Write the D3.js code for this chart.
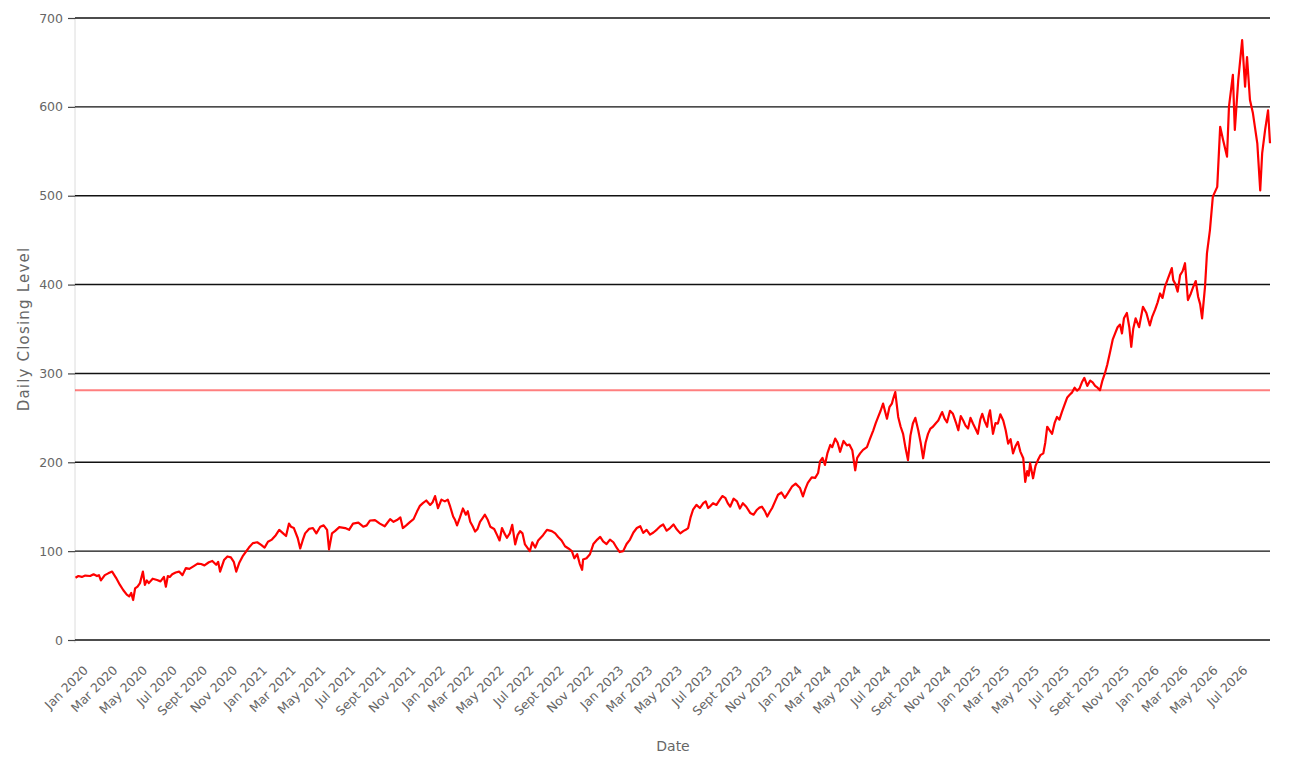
<!DOCTYPE html>
<html>
<head>
<meta charset="utf-8">
<script src="https://cdn.jsdelivr.net/npm/d3@7"></script>
<style>
  body { margin: 0; background: #fff; }
  svg { display: block; font-family: "DejaVu Sans", sans-serif; }
</style>
</head>
<body>
<script>
// closing levels (main readings)
const closeDates = [
  "2020-01-02","2020-01-15","2020-02-01","2020-02-15","2020-02-23","2020-03-02","2020-03-17","2020-03-25",
  "2020-04-02","2020-04-16","2020-04-25","2020-04-29","2020-05-03","2020-05-13","2020-05-19","2020-05-23",
  "2020-05-31","2020-06-17","2020-07-01","2020-07-05","2020-07-09","2020-07-18","2020-08-01","2020-08-15",
  "2020-09-01","2020-09-15","2020-10-01","2020-10-16","2020-10-24","2020-11-01","2020-11-15","2020-11-21",
  "2020-11-26","2020-12-02","2020-12-16","2020-12-30","2021-01-16","2021-01-30","2021-02-15","2021-03-02",
  "2021-03-14","2021-03-18","2021-04-01","2021-04-06","2021-04-16","2021-05-02","2021-05-17","2021-05-31",
  "2021-06-04","2021-06-16","2021-07-07","2021-07-23","2021-08-13","2021-08-27","2021-09-16","2021-10-07",
  "2021-10-21","2021-11-02","2021-11-17","2021-12-01","2021-12-13","2021-12-28","2022-01-07","2022-01-13",
  "2022-01-27","2022-02-07","2022-02-13","2022-02-21","2022-03-05","2022-03-11","2022-03-20","2022-03-30",
  "2022-04-09","2022-04-19","2022-04-30","2022-05-14","2022-05-24","2022-06-03","2022-06-14","2022-06-20",
  "2022-06-30","2022-07-10","2022-07-20","2022-07-31","2022-08-16","2022-09-03","2022-09-16","2022-09-30",
  "2022-10-14","2022-10-25","2022-11-04","2022-11-06","2022-11-20","2022-12-05","2022-12-17","2022-12-31",
  "2023-01-14","2023-01-27","2023-02-10","2023-02-24","2023-03-09","2023-03-23","2023-04-06","2023-04-19",
  "2023-05-03","2023-05-17","2023-05-30","2023-06-09","2023-06-19","2023-07-03","2023-07-10","2023-07-20",
  "2023-07-30","2023-08-13","2023-08-24","2023-09-03","2023-09-17","2023-09-29","2023-10-14","2023-10-28",
  "2023-11-07","2023-11-18","2023-11-28","2023-12-10","2023-12-24","2024-01-08","2024-01-24","2024-01-30",
  "2024-02-09","2024-02-24","2024-03-05","2024-03-15","2024-03-26","2024-03-30","2024-04-05","2024-04-15",
  "2024-04-29","2024-05-10","2024-05-16","2024-05-26","2024-06-09","2024-06-22","2024-07-02","2024-07-12",
  "2024-07-20","2024-07-30","2024-08-06","2024-08-12","2024-08-22","2024-09-01","2024-09-11","2024-09-22",
  "2024-10-02","2024-10-12","2024-10-22","2024-11-02","2024-11-10","2024-11-20","2024-12-02","2024-12-13",
  "2024-12-23","2025-01-02","2025-01-12","2025-01-22","2025-01-31","2025-02-10","2025-02-16","2025-02-22",
  "2025-03-04","2025-03-15","2025-03-25","2025-04-04","2025-04-14","2025-04-25","2025-04-29","2025-05-03",
  "2025-05-09","2025-05-15","2025-05-25","2025-06-05","2025-06-13","2025-06-23","2025-07-03","2025-07-13",
  "2025-07-24","2025-08-03","2025-08-13","2025-08-23","2025-09-03","2025-09-09","2025-09-19","2025-09-29",
  "2025-10-09","2025-10-20","2025-10-30","2025-11-09","2025-11-17","2025-11-23","2025-12-02","2025-12-06",
  "2025-12-26","2026-01-09","2026-01-20","2026-01-30","2026-02-09","2026-02-23","2026-03-02","2026-03-12",
  "2026-03-22","2026-03-28","2026-04-08","2026-04-18","2026-04-26","2026-05-02","2026-05-06","2026-05-12",
  "2026-05-18","2026-05-27","2026-06-02","2026-06-08","2026-06-16","2026-06-20","2026-06-28","2026-07-02",
  "2026-07-09","2026-07-17","2026-07-23","2026-07-27","2026-08-02","2026-08-08","2026-08-17","2026-08-23",
  "2026-08-27","2026-09-02","2026-09-08","2026-09-12"
];
const closeValues = [
  70,71,72,72,67,73,77,70,
  62,51,53,45,58,64,77,62,
  64,67.5,71,60,72,74,77,81,
  83.5,85.5,87.5,84.6,77,90,93,88,
  77,86.6,99.4,109,107,110.6,118,120,
  131,127.5,114.5,103,120,126,127.5,124,
  102,122.5,126,131,127.5,134.5,131,136,
  135,126,133,144.5,154,152,162,148.4,
  156,150,139,129,148,141,133,122,
  133,141,127.5,118,126,115,129.5,107.6,
  122.5,107.6,100,104,118,122.5,116,105.5,
  100,96.5,79,90.5,96.5,113,111,113,
  103.6,100,113,126,120.5,118.6,124.3,130,
  126,124.3,122.5,126,146.6,148.5,154,148.5,
  154,158,160,150,156,154,143,146.6,
  150,139,148.5,163.5,160,173,171,161.6,
  176.8,182.4,201,197,219.6,217,226.6,211.8,
  219,213.6,191,210,217,236,251,266,
  249,266,279,251,232,202.5,243.6,236,
  204.5,232,240,247,256.5,245,254.6,236,
  247,238,243.6,232,254.6,240,258.5,232,
  243.6,247,221,210,223,204.5,178,190,
  199,182,202.5,210,240,232,251,256.5,
  273,278.7,280.6,290,286,292,286,281,
  300,325,345,355,362,368,330,350,
  375,354,372,390,397.6,418.6,401,410.7,
  424,382.6,397.6,386,362,397.6,435.5,461,
  499,510,577.6,562.7,544,600,636,574,
  630,675,622.7,656,607.7,593,559,506,
  548,574,596,559
];

// extra in-between readings of the wiggles
const wiggleDates = [
  "2020-01-08","2020-01-22","2020-02-08","2020-02-19","2020-03-09","2020-04-09","2020-04-21","2020-05-08",
  "2020-05-27","2020-06-08","2020-06-24","2020-07-13","2020-07-25","2020-08-08","2020-08-22","2020-09-08",
  "2020-09-22","2020-10-08","2020-10-20","2020-11-08","2020-12-09","2020-12-22",
  "2021-01-08","2021-01-23","2021-02-07","2021-02-22","2021-03-08","2021-03-24","2021-04-11","2021-04-24",
  "2021-05-09","2021-05-24","2021-06-10","2021-06-25","2021-07-15","2021-08-03","2021-08-20","2021-09-06",
  "2021-09-26","2021-10-14","2021-10-28","2021-11-09","2021-11-24","2021-12-07","2021-12-20",
  "2022-01-02","2022-01-20","2022-02-02","2022-02-17","2022-02-27","2022-03-15","2022-03-25","2022-04-04",
  "2022-04-14","2022-04-25","2022-05-08","2022-05-19","2022-05-29","2022-06-09","2022-06-25","2022-07-05",
  "2022-07-25","2022-08-06","2022-08-24","2022-09-10","2022-09-23","2022-10-07","2022-10-19","2022-10-30",
  "2022-11-13","2022-11-27","2022-12-11","2022-12-24",
  "2023-01-07","2023-01-20","2023-02-03","2023-02-17","2023-03-03","2023-03-16","2023-03-30","2023-04-13",
  "2023-04-26","2023-05-10","2023-05-24","2023-06-04","2023-06-14","2023-06-26","2023-07-15","2023-07-25",
  "2023-08-06","2023-08-18","2023-08-29","2023-09-10","2023-09-23","2023-10-06","2023-10-21","2023-11-02",
  "2023-11-13","2023-11-23","2023-12-04","2023-12-17","2023-12-30",
  "2024-01-15","2024-02-04","2024-02-17","2024-03-01","2024-03-10","2024-03-20","2024-04-10","2024-04-22",
  "2024-05-04","2024-05-20","2024-06-01","2024-06-15","2024-06-27","2024-07-07","2024-07-25","2024-08-02",
  "2024-08-17","2024-08-27","2024-09-06","2024-09-16","2024-09-27","2024-10-07","2024-10-17","2024-10-28",
  "2024-11-06","2024-11-15","2024-11-26","2024-12-08","2024-12-18","2024-12-28",
  "2025-01-07","2025-01-17","2025-01-27","2025-02-05","2025-02-13","2025-02-27","2025-03-09","2025-03-20",
  "2025-03-30","2025-04-09","2025-04-19","2025-05-06","2025-05-20","2025-05-30","2025-06-09","2025-06-18",
  "2025-06-28","2025-07-08","2025-07-18","2025-07-29","2025-08-08","2025-08-18","2025-08-28","2025-09-14",
  "2025-09-24","2025-10-04","2025-10-14","2025-10-25","2025-11-04","2025-11-13","2025-11-28","2025-12-11",
  "2025-12-18",
  "2026-01-02","2026-01-14","2026-01-25","2026-02-04","2026-02-16","2026-02-26","2026-03-07","2026-03-17",
  "2026-04-03","2026-04-13","2026-04-22"
];
const wiggleValues = [
  72,72.5,74,73,75,56,49,60,
  67,69,66,71,76,73,80,86,
  84,89,88,94,94,104,
  110,104,113,124,117,126,112,125,
  120,129,120,127,124,132,129,135,
  128,133,138,129,136,151,157,
  155,158,158,135,138,145,128,125,
  137,135,125,112,120,120,118,120,
  110,112,124,120,112,103,92,86,
  92,108,116,108,
  110,99,108,121,128,124,121,128,
  123,130,120,124,138,152,156,151,
  152,162,154,159,148,150,141,149,
  145,144,156,166,165,
  176,170,183,188,205,210,222,224,
  220,205,214,226,244,258,262,272,
  240,216,230,250,222,222,238,244,
  252,249,258,245,252,241,
  250,238,248,246,252,244,254,236,
  226,218,212,185,196,208,222,236,
  244,248,264,276,284,283,295,290,
  284,292,310,338,352,345,352,362,
  352,
  368,364,380,385,408,405,392,415,
  390,404,378
];

const yTicks = [0, 100, 200, 300, 400, 500, 600, 700];
const monthNames = ["Jan","Feb","Mar","Apr","May","Jun","Jul","Aug","Sept","Oct","Nov","Dec"];
const referenceLevel = 281;

const width = 1292, height = 757;
const margin = {left: 75, right: 22, top: 18, bottom: 117};

const parse = d3.timeParse("%Y-%m-%d");
const series = closeDates.map((d, i) => ({date: parse(d), value: closeValues[i]}))
    .concat(wiggleDates.map((d, i) => ({date: parse(d), value: wiggleValues[i]})))
    .sort((a, b) => a.date - b.date);

const svg = d3.select("body").append("svg")
    .attr("width", width)
    .attr("height", height);

const x = d3.scaleTime()
    .domain([new Date(2020, 0, 1), d3.max(series, d => d.date)])
    .range([margin.left, width - margin.right]);

const y = d3.scaleLinear()
    .domain([0, 700])
    .range([height - margin.bottom, margin.top]);

// light vertical axis line
svg.append("line")
    .attr("x1", margin.left).attr("x2", margin.left)
    .attr("y1", margin.top).attr("y2", height - margin.bottom + 3)
    .attr("stroke", "#dcdcdc")
    .attr("stroke-width", 1);

// gridlines (black)
svg.append("g")
    .selectAll("line")
    .data(yTicks)
    .join("line")
    .attr("x1", margin.left)
    .attr("x2", width - margin.right)
    .attr("y1", d => y(d))
    .attr("y2", d => y(d))
    .attr("stroke", "#111")
    .attr("stroke-width", 1.4);

// y axis ticks + labels
const yAxis = svg.append("g")
    .attr("transform", `translate(${margin.left},0)`)
    .call(d3.axisLeft(y).tickValues(yTicks).tickSize(7).tickPadding(5));
yAxis.select(".domain").remove();
yAxis.selectAll(".tick line").attr("stroke", "#444").attr("stroke-width", 1.2);
yAxis.selectAll(".tick text")
    .attr("fill", "#666")
    .style("font-family", "DejaVu Sans")
    .style("font-size", "12.5px");

// x axis labels, rotated, every 2 months (last one is Jul 2026)
const xTickDates = d3.timeMonth.every(2).range(new Date(2020, 0, 1), new Date(2026, 7, 1));
svg.append("g")
    .selectAll("text")
    .data(xTickDates)
    .join("text")
    .attr("transform", d => `translate(${x(d) + 14},${height - margin.bottom + 31}) rotate(-45)`)
    .attr("text-anchor", "end")
    .attr("fill", "#666")
    .style("font-size", "12.5px")
    .text(d => monthNames[d.getMonth()] + " " + d.getFullYear());

// reference level line
svg.append("line")
    .attr("x1", margin.left)
    .attr("x2", width - margin.right)
    .attr("y1", y(referenceLevel))
    .attr("y2", y(referenceLevel))
    .attr("stroke", "rgba(255,0,0,0.5)")
    .attr("stroke-width", 2);

// the series
const line = d3.line()
    .x(d => x(d.date))
    .y(d => y(d.value));

svg.append("path")
    .datum(series)
    .attr("d", line)
    .attr("fill", "none")
    .attr("stroke", "#ff0000")
    .attr("stroke-width", 2.2)
    .attr("stroke-linejoin", "round");

// axis titles
svg.append("text")
    .attr("x", 673)
    .attr("y", 751)
    .attr("text-anchor", "middle")
    .attr("fill", "#666")
    .style("font-size", "14px")
    .text("Date");

svg.append("text")
    .attr("transform", "translate(29,329) rotate(-90)")
    .attr("text-anchor", "middle")
    .attr("fill", "#666")
    .style("font-size", "15px")
    .style("letter-spacing", "1.2px")
    .text("Daily Closing Level");
</script>
</body>
</html>
